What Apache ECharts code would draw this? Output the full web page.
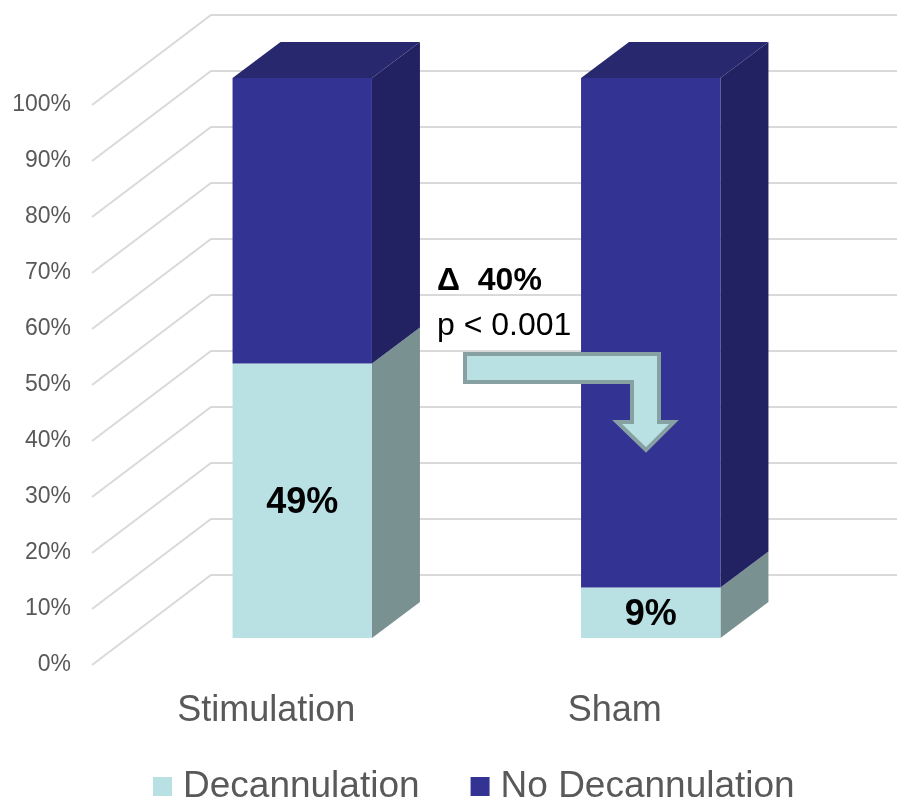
<!DOCTYPE html>
<html>
<head>
<meta charset="utf-8">
<script src="https://cdn.jsdelivr.net/npm/echarts@6/dist/echarts.min.js"></script>
<style>
  html, body { margin: 0; padding: 0; background: #fff; }
  #main { width: 897px; height: 797px; }
</style>
</head>
<body>
<div id="main"></div>
<script>
// data
const categories = ['Stimulation', 'Sham'];
const decannulation = [49, 9];
const noDecannulation = [51, 91];
const yTicks = [0, 10, 20, 30, 40, 50, 60, 70, 80, 90, 100];

const FONT = '"Liberation Sans", Arial, sans-serif';
const GRID_COLOR = '#d9d9d9';

// fake 3d: front plane -> bar front -> bar back -> back wall
const FRONT_DX = 36, FRONT_DY = -27;
const DEPTH_DX = 48, DEPTH_DY = -36;
const WALL_DX = 119, WALL_DY = -90;

const chart = echarts.init(document.getElementById('main'));

// stacked segments [cat, base, top, value]
const decData = decannulation.map((v, i) => [i, 0, v, v]);
const noDecData = noDecannulation.map((v, i) => [i, decannulation[i], decannulation[i] + v, v]);

function barRenderer(colors, showLabel, isTop) {
  return function (params, api) {
    const cat = api.value(0);
    const pb = api.coord([cat, api.value(1)]);
    const pt = api.coord([cat, api.value(2)]);
    const w = api.size([1, 0])[0] * 0.4;
    const x0 = pb[0] - w / 2 + FRONT_DX;
    const x1 = x0 + w;
    const yb = pb[1] + FRONT_DY;
    const yt = pt[1] + FRONT_DY;
    const children = [
      {
        type: 'polygon',
        shape: { points: [[x1, yb], [x1, yt], [x1 + DEPTH_DX, yt + DEPTH_DY], [x1 + DEPTH_DX, yb + DEPTH_DY]] },
        style: { fill: colors.side }
      },
      {
        type: 'rect',
        shape: { x: x0, y: yt, width: w, height: yb - yt },
        style: { fill: colors.front }
      }
    ];
    if (isTop) {
      children.push({
        type: 'polygon',
        shape: { points: [[x0, yt], [x1, yt], [x1 + DEPTH_DX, yt + DEPTH_DY], [x0 + DEPTH_DX, yt + DEPTH_DY]] },
        style: { fill: colors.top }
      });
    }
    if (showLabel) {
      children.push({
        type: 'text',
        style: {
          text: api.value(3) + '%',
          x: (x0 + x1) / 2,
          y: (yt + yb) / 2 + 2,
          align: 'center',
          verticalAlign: 'middle',
          fontSize: 36,
          fontWeight: 'bold',
          fontFamily: FONT,
          fill: '#000'
        }
      });
    }
    return { type: 'group', children: children };
  };
}

const option = {
  animation: false,
  backgroundColor: '#fff',
  grid: { left: 92, right: 108, top: 105, bottom: 132 },
  xAxis: {
    type: 'category',
    data: categories,
    axisLine: { show: false },
    axisTick: { show: false },
    axisLabel: { fontSize: 36, color: '#595959', fontFamily: FONT, margin: 28 }
  },
  yAxis: {
    type: 'value',
    min: 0,
    max: 100,
    interval: 10,
    axisLine: { show: false },
    axisTick: { show: false },
    splitLine: { show: false },
    axisLabel: { formatter: '{value}%', fontSize: 23, color: '#595959', fontFamily: FONT, margin: 21, padding: [4, 0, 0, 0] }
  },
  legend: {
    left: 148,
    top: 763,
    itemWidth: 19,
    itemHeight: 19,
    itemGap: 51,
    icon: 'rect',
    textStyle: { fontSize: 37, color: '#595959', fontFamily: FONT, padding: [0, 0, 0, 6] },
    data: [
      { name: 'Decannulation', itemStyle: { color: '#b9e0e3' } },
      { name: 'No Decannulation', itemStyle: { color: '#333393' } }
    ]
  },
  series: [
    {
      name: 'walls',
      type: 'custom',
      silent: true,
      z: 1,
      data: yTicks.map(v => [0, v]),
      renderItem: function (params, api) {
        const p = api.coord([0, api.value(1)]);
        const left = params.coordSys.x;
        const right = params.coordSys.x + params.coordSys.width;
        return {
          type: 'polyline',
          shape: { points: [[left, p[1]], [left + WALL_DX, p[1] + WALL_DY], [right + WALL_DX, p[1] + WALL_DY]] },
          style: { stroke: GRID_COLOR, lineWidth: 2, fill: null }
        };
      }
    },
    {
      name: 'Decannulation',
      type: 'custom',
      z: 2,
      itemStyle: { color: '#b9e0e3' },
      encode: { x: 0, y: [1, 2] },
      data: decData,
      renderItem: barRenderer({ front: '#b9e0e3', side: '#7a9192', top: '#9fc4c7' }, true, false)
    },
    {
      name: 'No Decannulation',
      type: 'custom',
      z: 3,
      itemStyle: { color: '#333393' },
      encode: { x: 0, y: [1, 2] },
      data: noDecData,
      renderItem: barRenderer({ front: '#333393', side: '#222161', top: '#28286f' }, false, true)
    }
  ],
  graphic: [
    {
      type: 'polygon',
      z: 100,
      shape: {
        points: [[465, 354], [659, 354], [659, 422], [674, 422], [646, 450], [617, 422],
                 [632, 422], [632, 382], [465, 382]]
      },
      style: { fill: '#b9e0e3', stroke: '#87a0a2', lineWidth: 4 }
    },
    {
      type: 'text',
      z: 100,
      style: { text: 'Δ  40%', x: 437, y: 281, verticalAlign: 'middle', fontSize: 32, fontWeight: 'bold', fontFamily: FONT, fill: '#000' }
    },
    {
      type: 'text',
      z: 100,
      style: { text: 'p < 0.001', x: 437, y: 326, verticalAlign: 'middle', fontSize: 32, fontFamily: FONT, fill: '#000' }
    }
  ]
};

chart.setOption(option);
</script>
</body>
</html>
